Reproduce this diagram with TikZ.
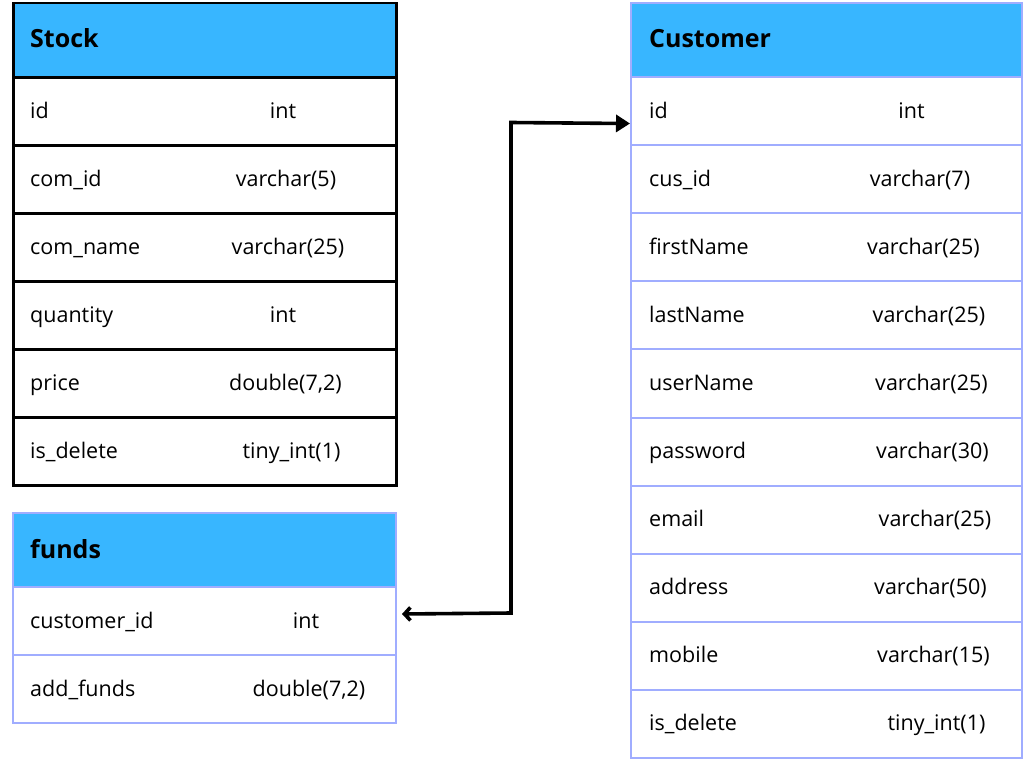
\documentclass[tikz,border=0pt]{standalone}
\usepackage{fontspec}
\setmainfont{Open Sans}
\usetikzlibrary{arrows.meta}
\definecolor{headblue}{HTML}{38B6FF}
\definecolor{lineblue}{HTML}{A0ADFF}
\begin{document}
\begin{tikzpicture}[x=1pt,y=-1pt,
  cell/.style={anchor=north west, inner sep=0pt, minimum height=68pt},
  blackcell/.style={cell, draw=black, line width=2.5pt, minimum width=383pt},
  bluecell/.style={cell, draw=lineblue, line width=2pt},
  headcell/.style={fill=headblue, minimum height=74pt},
  fname/.style={anchor=base west, inner sep=0pt, font=\fontsize{21.5}{25}\selectfont},
  ftype/.style={anchor=base, inner sep=0pt, font=\fontsize{21.5}{25}\selectfont},
  htitle/.style={anchor=base west, inner sep=0pt, font=\bfseries\fontsize{25}{29}\selectfont},
  link/.style={draw=black, line width=3.6pt, line join=miter}
]
\useasboundingbox[fill=white] (0,0) rectangle (1024,768);

% ---------- Stock ----------
\node[blackcell, headcell] (stockhead) at (12,2) {};
\node[htitle] (stocktitle) at (30,48) {Stock};
\foreach \i/\n/\t/\tx in {0/id/int/283, 1/com\_id/varchar(5)/286, 2/com\_name/varchar(25)/288,
  3/quantity/int/283, 4/price/{double(7,2)}/285.5, 5/is\_delete/tiny\_int(1)/291.5}{
  \pgfmathsetmacro{\ytop}{76+68*\i}
  \pgfmathsetmacro{\ybase}{118+68*\i}
  \node[blackcell] (stockrow\i) at (12,\ytop) {};
  \node[fname] (stockname\i) at (30,\ybase) {\n};
  \node[ftype] (stocktype\i) at (\tx,\ybase) {\t};
}

% ---------- funds ----------
\node[bluecell, headcell, minimum width=383pt] (fundshead) at (12,512) {};
\node[htitle] (fundstitle) at (30,558) {funds};
\foreach \i/\n/\t/\tx in {0/customer\_id/int/306, 1/add\_funds/{double(7,2)}/309}{
  \pgfmathsetmacro{\ytop}{586+68*\i}
  \pgfmathsetmacro{\ybase}{628+68*\i}
  \node[bluecell, minimum width=383pt] (fundsrow\i) at (12,\ytop) {};
  \node[fname] (fundsname\i) at (30,\ybase) {\n};
  \node[ftype] (fundstype\i) at (\tx,\ybase) {\t};
}

% ---------- Customer ----------
\node[bluecell, headcell, minimum width=391pt] (custhead) at (630,2) {};
\node[htitle] (custtitle) at (649,48) {Customer};
\foreach \i/\n/\t/\tx in {0/id/int/911.5, 1/cus\_id/varchar(7)/920, 2/firstName/varchar(25)/923.5,
  3/lastName/varchar(25)/929, 4/userName/varchar(25)/931.5, 5/password/varchar(30)/932.5,
  6/email/varchar(25)/935, 7/address/varchar(50)/930.5, 8/mobile/varchar(15)/933.5,
  9/is\_delete/tiny\_int(1)/936.5}{
  \pgfmathsetmacro{\ytop}{76+68.1*\i}
  \pgfmathsetmacro{\ybase}{118+68.1*\i}
  \node[bluecell, minimum width=391pt, minimum height=68.1pt] (custrow\i) at (630,\ytop) {};
  \node[fname] (custname\i) at (649,\ybase) {\n};
  \node[ftype] (custtype\i) at (\tx,\ybase) {\t};
}

% ---------- connector ----------
\coordinate (fundsend) at ([xshift=5pt,yshift=7pt]fundsrow0.east);
\coordinate (custend) at ([yshift=-12.5pt]custrow0.west);
\draw[link, {Straight Barb[length=6pt,width=13pt,line width=3.6pt]}-{Triangle[length=14pt,width=17pt]}]
  (fundsend) -- (511,613) -- (511,122.5) -- (custend);
\end{tikzpicture}
\end{document}
